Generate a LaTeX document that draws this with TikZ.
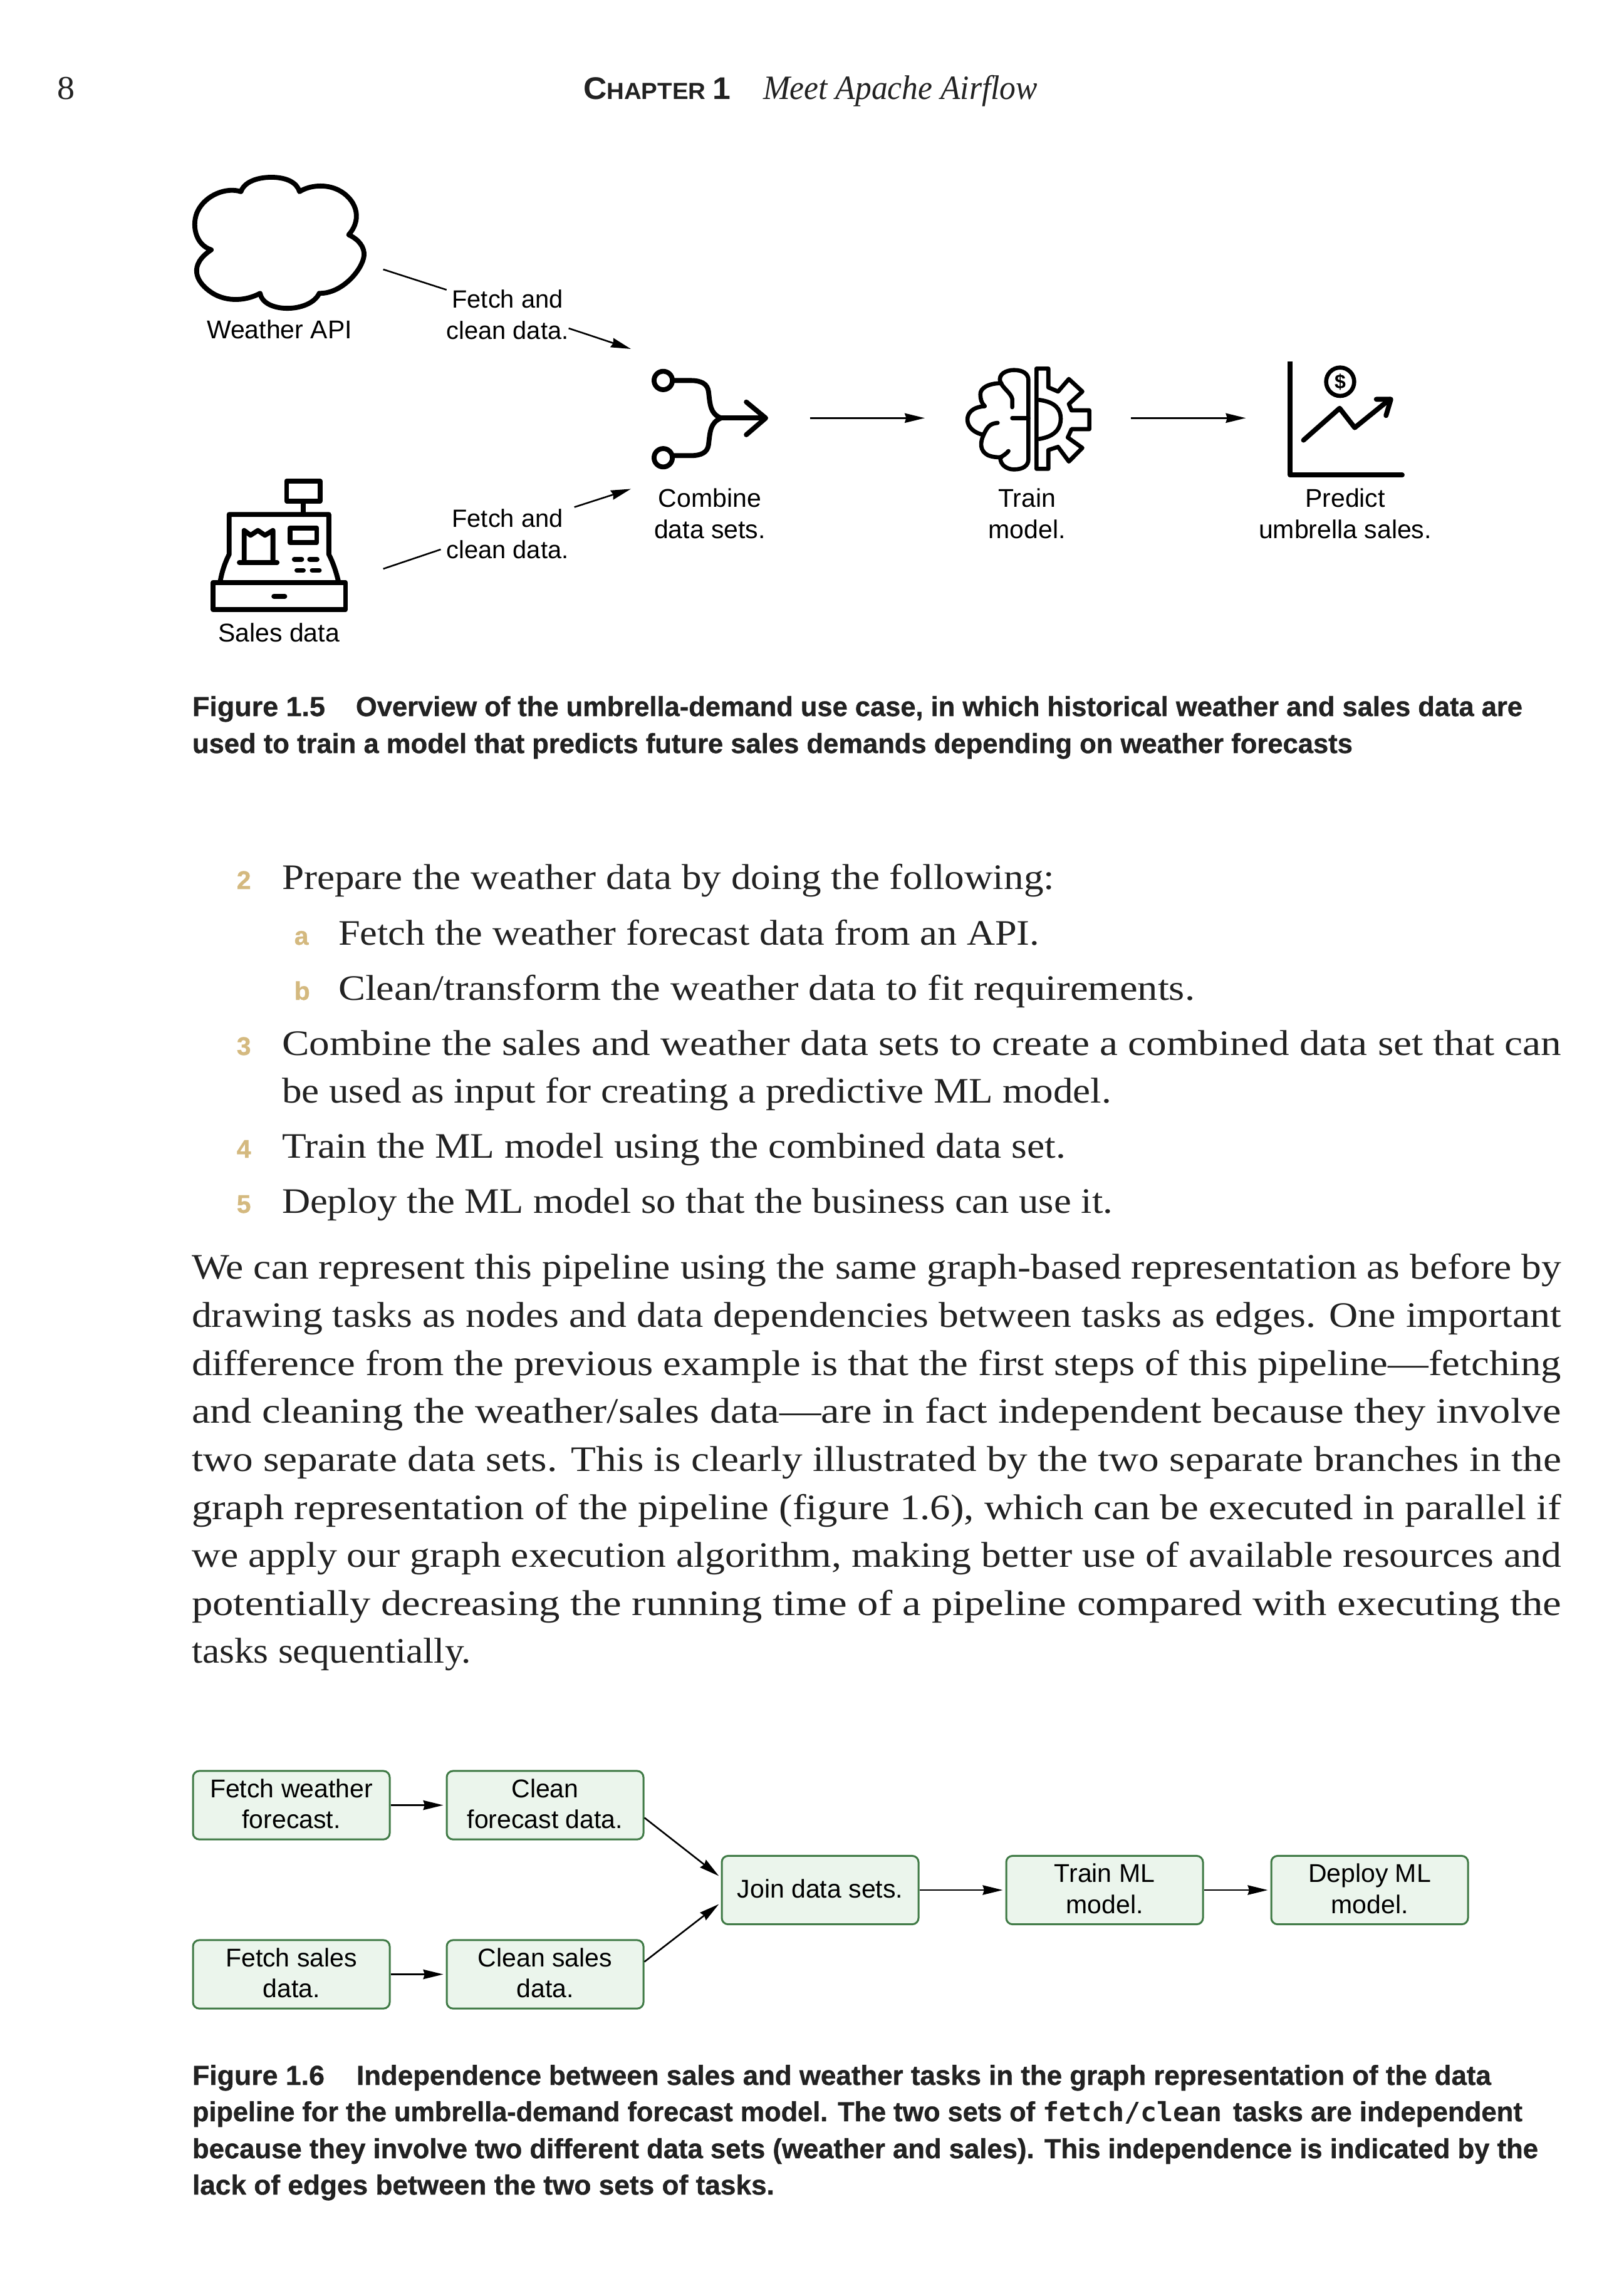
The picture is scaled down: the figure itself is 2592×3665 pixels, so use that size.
\documentclass[tikz,border=0pt]{standalone}
\usepackage{graphicx}
\usepackage{fontspec}
\setmainfont{Liberation Serif}
\setsansfont{Liberation Sans}
\setmonofont{DejaVu Sans Mono}
\newfontface\capface{Liberation Sans Bold}[FakeBold=0.8]
\usetikzlibrary{arrows.meta}
\definecolor{boxfill}{HTML}{EBF5EC}
\definecolor{boxline}{HTML}{3F7A45}
\definecolor{numtan}{HTML}{D4B97F}
\definecolor{inkc}{HTML}{222222}
\newsavebox\fitbox
\newcommand{\fitinner}[2]{% target width in pt (number), content
  \sbox\fitbox{#2}%
  \pgfmathsetmacro\fitr{#1/\the\wd\fitbox}%
  \scalebox{\fitr}[1]{\usebox\fitbox}%
}
\newcommand{\fitline}[6]{% name, x, y, xend, font, text
  \pgfmathsetmacro\fitw{(#4-#2)*0.25}%
  \node[inner sep=0pt,outer sep=0pt,anchor=base west,text=inkc] (#1) at (#2,#3) {\fitinner{\fitw}{#5#6}};%
}
\newcommand{\bodyf}{\rmfamily\fontsize{14.3}{17}\selectfont}
\newcommand{\capf}{\capface\fontsize{11}{14}\selectfont}
\newcommand{\monof}{\ttfamily\bfseries\fontsize{10.6}{14}\selectfont}
\newcommand{\numf}{\capface\fontsize{10.2}{12}\selectfont}
\newcommand{\labf}{\sffamily\fontsize{10.25}{12.4}\selectfont}
\newcommand{\fetchf}{\sffamily\fontsize{9.95}{12.4}\selectfont}
\tikzset{
  conn/.style={line width=0.65pt,-{Stealth[length=8pt,width=3.8pt,inset=0.6pt]}},
  plainconn/.style={line width=0.65pt},
  icon/.style={line width=1.95pt,line join=round,line cap=round},
  thinicon/.style={line width=1.65pt,line join=round,line cap=round},
  lab/.style={font=\labf,align=center,inner sep=0pt,text=black},
  task/.style={draw=boxline,fill=boxfill,line width=0.75pt,rounded corners=2.5pt,minimum width=78.5pt,minimum height=27.3pt,inner sep=0pt,font=\labf,align=center,text=black,execute at end node={\rule[-1.2pt]{0pt}{1pt}}},
  numl/.style={font=\numf,text=numtan,inner sep=0pt,anchor=base west},
}
\begin{document}
\begin{tikzpicture}[x=0.25pt,y=-0.25pt]
\useasboundingbox (0,0) rectangle (2592,3665);
\fill[white] (0,0) rectangle (2592,3665);
% header
\fitline{pg}{92}{158}{120}{\rmfamily\fontsize{13.3}{16}\selectfont}{8}
\fitline{chap}{931}{158}{1166}{\sffamily\bfseries\fontsize{9.3}{12}\selectfont}{{\fontsize{12.5}{12}\selectfont C}HAPTER {\fontsize{12.5}{12}\selectfont 1}}
\fitline{chapt}{1218}{158}{1656}{\rmfamily\itshape\fontsize{13.6}{16}\selectfont}{Meet Apache Airflow}

% cloud (weather API)
\begin{scope}[shift={(280,260)},xscale=1/1.96,yscale=1/1.96]
\draw[icon] (205,90) .. controls (215,60) and (255,45) .. (300,45) .. controls (345,45) and (380,60) .. (388,90)
 .. controls (420,70) and (470,65) .. (510,85) .. controls (560,110) and (590,170) .. (542,225)
 .. controls (575,240) and (592,265) .. (590,290) .. controls (585,335) and (520,410) .. (450,408)
 .. controls (435,440) and (390,455) .. (350,455) .. controls (310,455) and (270,440) .. (265,408)
 .. controls (215,435) and (150,435) .. (105,400) .. controls (65,370) and (40,320) .. (112,272)
 .. controls (60,255) and (50,190) .. (70,150) .. controls (95,100) and (160,75) .. (205,90) -- cycle;
% cash register
\draw[icon] (348,995) rectangle (452,1058);
\draw[icon] (400,1058) -- (400,1100);
\draw[icon] (140,1310) .. controls (145,1280) and (155,1250) .. (168,1225) -- (168,1100) -- (480,1100) -- (480,1225) .. controls (493,1250) and (503,1280) .. (510,1310);
\draw[icon] (118,1313) rectangle (532,1398);
\draw[icon] (308,1356) -- (342,1356);
\draw[icon] (358,1142) rectangle (442,1188);
\draw[icon] (215,1250) -- (215,1150) -- (235,1165) -- (258,1150) -- (280,1165) -- (305,1150) -- (305,1250);
\draw[icon] (200,1250) -- (318,1250);
\draw[icon] (372,1240) -- (395,1240);
\draw[icon] (420,1240) -- (443,1240);
\draw[icon] (380,1275) -- (400,1275);
\draw[icon] (428,1275) -- (450,1275);
\end{scope}

% combine, brain/gear, chart icons
\begin{scope}[shift={(1000,550)},xscale=1/1.1615,yscale=1/3]
\draw[icon] (68,172) ellipse [x radius=17,y radius=44];
\draw[icon] (68,542) ellipse [x radius=17,y radius=44];
\draw[icon] (88,172) -- (118,172) .. controls (140,172) and (150,190) .. (152,225) .. controls (155,290) and (155,330) .. (175,352) .. controls (155,375) and (155,415) .. (152,480) .. controls (150,515) and (140,532) .. (118,532) -- (88,532);
\draw[icon] (175,352) -- (255,352);
\draw[icon] (222,275) -- (258,352) -- (222,432);
% brain
\draw[thinicon] (715,300) -- (715,260) .. controls (712,230) and (700,215) .. (693,180) .. controls (688,140) and (705,122) .. (718,122) .. controls (735,122) and (745,140) .. (745,170) -- (745,550) .. controls (745,580) and (735,598) .. (718,598) .. controls (705,598) and (692,575) .. (693,540) .. controls (700,530) and (705,520) .. (708,510);
\draw[thinicon] (695,185) .. controls (670,185) and (655,210) .. (656,240) .. controls (656,260) and (658,280) .. (664,295);
\draw[thinicon] (664,295) .. controls (640,300) and (632,330) .. (632,360) .. controls (632,395) and (645,425) .. (662,432);
\draw[thinicon] (688,375) .. controls (672,378) and (668,400) .. (662,432) .. controls (655,470) and (655,510) .. (670,530) .. controls (680,540) and (688,540) .. (695,540);
\draw[thinicon] (715,352) -- (745,352);
% gear
\draw[thinicon] (760,115) -- (782,115) -- (782,205) -- (800,225) -- (820,165) -- (845,225) -- (820,285) -- (825,315) -- (858,315) -- (858,405) -- (825,405) -- (818,445) -- (845,495) -- (820,560) -- (800,490) -- (782,505) -- (782,595) -- (760,595) -- cycle;
\draw[thinicon] (765,265) .. controls (795,275) and (805,310) .. (805,355) .. controls (805,400) and (795,440) .. (765,452);
% chart
\draw[icon,line cap=butt] (1230,80) -- (1230,625);
\draw[icon] (1230,625) -- (1438,625);
\draw[thinicon] (1323,178) ellipse [x radius=26,y radius=68];
\draw[icon] (1255,458) -- (1322,305) -- (1350,398) -- (1415,262);
\draw[icon] (1390,262) -- (1417,262) -- (1408,340);
\node[inner sep=0pt] (dollar) at (1323,178) {\sffamily\bfseries\fontsize{8}{8}\selectfont\$};
\end{scope}

% figure 1.5 labels
\node[lab] (wapi) at (446,526) {Weather API};
\node[lab] (sdata) at (445,1010) {Sales data};
\node[lab,font=\fetchf] (f1) at (810,502) {Fetch and\\clean data.};
\node[lab,font=\fetchf] (f2) at (810,852) {Fetch and\\clean data.};
\node[lab] (combl) at (1133,820) {Combine\\data sets.};
\node[lab] (trainl) at (1639,820) {Train\\model.};
\node[lab] (predl) at (2147,820) {Predict\\umbrella sales.};

% figure 1.5 connectors
\coordinate (a1) at (611.6,430); \coordinate (a2) at (712.7,462.6);
\coordinate (a3) at (907.6,524); \coordinate (a4) at (1007,557);
\coordinate (b1) at (611.6,908); \coordinate (b2) at (703.5,877);
\coordinate (b3) at (916.7,809.5); \coordinate (b4) at (1007,780.4);
\coordinate (c1) at (1292.7,667.3); \coordinate (c2) at (1476,667.3);
\coordinate (d1) at (1805,667.3); \coordinate (d2) at (1988.4,667.3);
\draw[plainconn] (a1) -- (a2);
\draw[conn] (a3) -- (a4);
\draw[plainconn] (b1) -- (b2);
\draw[conn] (b3) -- (b4);
\draw[conn] (c1) -- (c2);
\draw[conn] (d1) -- (d2);

% caption 1.5
\fitline{c50}{307}{1143}{519}{\capf}{Figure 1.5}
\fitline{c51}{568}{1143}{2430}{\capf}{Overview of the umbrella-demand use case, in which historical weather and sales data are}
\fitline{c52}{307}{1202}{2159}{\capf}{used to train a model that predicts future sales demands depending on weather forecasts}

% list
\node[numl] (n2) at (377,1419) {2};
\fitline{t1}{450}{1419}{1683}{\bodyf}{Prepare the weather data by doing the following:}
\node[numl] (na) at (469,1508) {a};
\fitline{t2}{540}{1508}{1659}{\bodyf}{Fetch the weather forecast data from an API.}
\node[numl] (nb) at (469,1596) {b};
\fitline{t3}{540}{1596}{1907}{\bodyf}{Clean/transform the weather data to fit requirements.}
\node[numl] (n3) at (377,1684) {3};
\fitline{t4}{450}{1684}{2492}{\bodyf}{Combine the sales and weather data sets to create a combined data set that can}
\fitline{t5}{450}{1760}{1774}{\bodyf}{be used as input for creating a predictive ML model.}
\node[numl] (n4) at (377,1848) {4};
\fitline{t6}{450}{1848}{1701}{\bodyf}{Train the ML model using the combined data set.}
\node[numl] (n5) at (377,1936) {5};
\fitline{t7}{450}{1936}{1776}{\bodyf}{Deploy the ML model so that the business can use it.}

% paragraph
\fitline{p1}{306}{2041}{2492}{\bodyf}{We can represent this pipeline using the same graph-based representation as before by}
\fitline{p2}{306}{2118}{2492}{\bodyf}{drawing tasks as nodes and data dependencies between tasks as edges. One important}
\fitline{p3}{306}{2195}{2492}{\bodyf}{difference from the previous example is that the first steps of this pipeline—fetching}
\fitline{p4}{306}{2271}{2492}{\bodyf}{and cleaning the weather/sales data—are in fact independent because they involve}
\fitline{p5}{306}{2348}{2492}{\bodyf}{two separate data sets. This is clearly illustrated by the two separate branches in the}
\fitline{p6}{306}{2425}{2492}{\bodyf}{graph representation of the pipeline (figure 1.6), which can be executed in parallel if}
\fitline{p7}{306}{2501}{2492}{\bodyf}{we apply our graph execution algorithm, making better use of available resources and}
\fitline{p8}{306}{2578}{2492}{\bodyf}{potentially decreasing the running time of a pipeline compared with executing the}
\fitline{p9}{306}{2654}{752}{\bodyf}{tasks sequentially.}

% figure 1.6 boxes
\node[task] (fw) at (465,2881.5) {Fetch weather\\forecast.};
\node[task] (cf) at (870,2881.5) {Clean\\forecast data.};
\node[task] (fs) at (465,3151.5) {Fetch sales\\data.};
\node[task] (cs) at (870,3151.5) {Clean sales\\data.};
\node[task] (jn) at (1309,3017) {Join data sets.};
\node[task] (tr) at (1763,3017) {Train ML\\model.};
\node[task] (dp) at (2186,3017) {Deploy ML\\model.};
\draw[conn,shorten >=1pt] (fw) -- (cf);
\draw[conn,shorten >=1pt] (fs) -- (cs);
\draw[conn,shorten >=1pt] ([yshift=-5pt]cf.east) -- ([yshift=5pt]jn.west);
\draw[conn,shorten >=1pt] ([yshift=5pt]cs.east) -- ([yshift=-5pt]jn.west);
\draw[conn,shorten >=1pt] (jn) -- (tr);
\draw[conn,shorten >=1pt] (tr) -- (dp);

% caption 1.6
\fitline{c60}{307}{3328}{518}{\capf}{Figure 1.6}
\fitline{c61}{569}{3328}{2380}{\capf}{Independence between sales and weather tasks in the graph representation of the data}
\fitline{c62}{307}{3386}{1652}{\capf}{pipeline for the umbrella-demand forecast model. The two sets of}
\fitline{c62m}{1664}{3386}{1951}{\monof}{fetch/clean}
\fitline{c62e}{1968}{3386}{2430}{\capf}{tasks are independent}
\fitline{c63}{307}{3445}{2455}{\capf}{because they involve two different data sets (weather and sales). This independence is indicated by the}
\fitline{c64}{307}{3503}{1236}{\capf}{lack of edges between the two sets of tasks.}
\end{tikzpicture}
\end{document}
